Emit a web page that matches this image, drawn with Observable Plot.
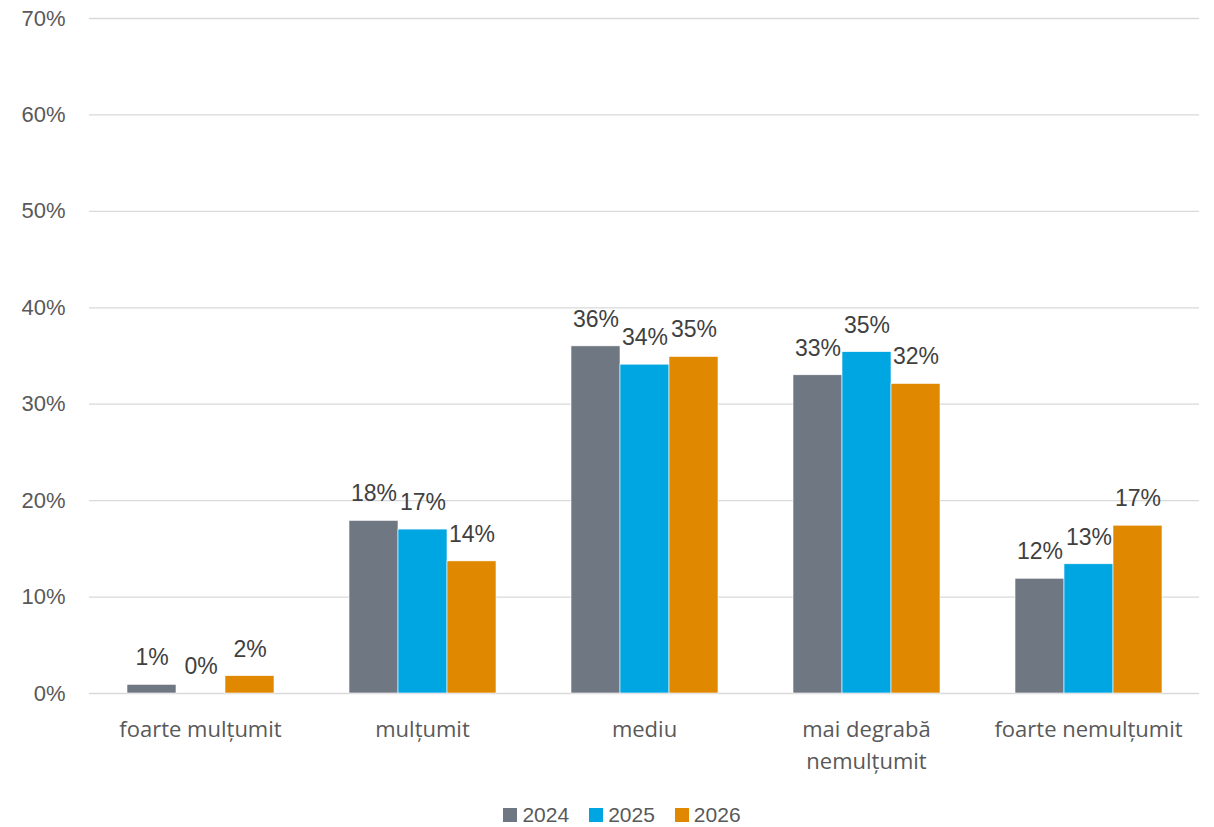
<!DOCTYPE html>
<html>
<head>
<meta charset="utf-8">
<script src="https://cdn.jsdelivr.net/npm/d3@7"></script>
<script src="https://cdn.jsdelivr.net/npm/@observablehq/plot@0.6"></script>
<style>
  html, body { margin: 0; padding: 0; background: #fff; }
  #chart svg { display: block; }
  #legend { display: flex; justify-content: center; align-items: center; gap: 20px;
            font-family: "Liberation Sans", Arial, sans-serif; font-size: 21px; color: #595959;
            padding-left: 30px; height: 32px; margin-top: 4px; }
  #legend .item { display: flex; align-items: center; gap: 5px; }
  #legend .sw { width: 14px; height: 14px; display: inline-block; }
</style>
</head>
<body>
<div id="chart"></div>
<div id="legend"></div>
<script>
const categories = ["foarte mulțumit", "mulțumit", "mediu", "mai degrabă\nnemulțumit", "foarte nemulțumit"];
const years = ["2024", "2025", "2026"];
const values2024 = [0.9, 17.9, 36.0, 33.0, 11.9];
const values2025 = [0.0, 17.0, 34.1, 35.4, 13.4];
const values2026 = [1.8, 13.7, 34.9, 32.1, 17.4];
const colors = ["#6f7782", "#00a6e2", "#df8800"];
const yTicks = [0, 10, 20, 30, 40, 50, 60, 70];

const seriesValues = [values2024, values2025, values2026];
const data = [];
categories.forEach((c, i) => {
  years.forEach((y, j) => {
    data.push({category: c, year: y, value: seriesValues[j][i]});
  });
});

const chart = Plot.plot({
  width: 1214,
  height: 795,
  marginLeft: 88,
  marginRight: 14,
  marginTop: 18,
  marginBottom: 102,
  style: {fontFamily: "'Liberation Sans', Arial, sans-serif", background: "#fff"},
  fx: {domain: categories, padding: 0, label: null, axis: null},
  x: {domain: years, paddingInner: 0, paddingOuter: 0.733, axis: null},
  y: {domain: [0, 70], axis: null, label: null},
  color: {domain: years, range: colors},
  marks: [
    Plot.gridY(yTicks, {stroke: "#d9d9d9", strokeOpacity: 1, strokeWidth: 1.3}),
    Plot.axisY(yTicks, {tickSize: 0, tickPadding: 24, tickFormat: d => d + "%", fontSize: 22, fill: "#595959", label: null}),
    Plot.axisFx({anchor: "bottom", tickSize: 0, tickPadding: 21, fontSize: 22, fill: "#595959", lineHeight: 1.45,
                 fontFamily: "'Open Sans', sans-serif", label: null}),
    Plot.barY(data, {fx: "category", x: "year", y: "value", fill: "year", stroke: "#fff", strokeWidth: 0.6}),
    Plot.text(data, {fx: "category", x: "year", y: "value", text: d => Math.round(d.value) + "%",
                     dy: -27, fontSize: 23, fill: "#404040"})
  ]
});
document.getElementById("chart").appendChild(chart);

const legend = document.getElementById("legend");
years.forEach((y, j) => {
  const item = document.createElement("div");
  item.className = "item";
  const sw = document.createElement("span");
  sw.className = "sw";
  sw.style.background = colors[j];
  const t = document.createElement("span");
  t.textContent = y;
  item.appendChild(sw);
  item.appendChild(t);
  legend.appendChild(item);
});
</script>
</body>
</html>
